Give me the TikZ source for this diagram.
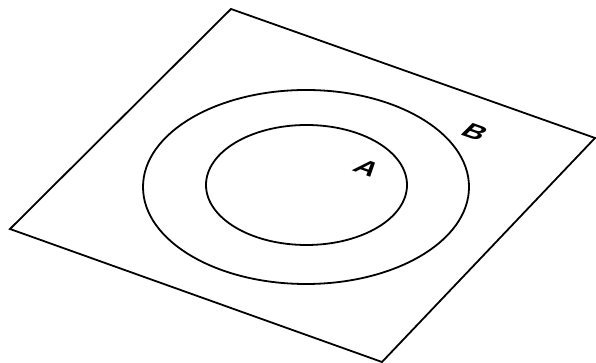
\documentclass[tikz,border=0pt]{standalone}
\usepackage{fontspec}
\setsansfont{Liberation Sans}
\usetikzlibrary{calc}
\tikzset{
    plane/.style={
        draw,
        line width=1.8pt,
        line join=miter
    },
    ring/.style={
        draw,
        line width=1.8pt
    },
    lbl/.style={
        font=\sffamily\bfseries\fontsize{19}{19}\selectfont,
        transform shape,
        inner sep=0pt,
        cm={1.45,-0.51,0.9,0.9,(0,0)}
    }
}
\begin{document}
\begin{tikzpicture}[x=1pt,y=1pt]
\useasboundingbox (0,0) rectangle (596,363);

% corners of the plane
\coordinate (top) at (231,354);
\coordinate (right) at (595,225);
\coordinate (bottom) at (382,1);
\coordinate (left) at (10,134);
\draw[plane] (top) -- (right) -- (bottom) -- (left) -- cycle;

% the two sets
\coordinate (cB) at (306,176);
\coordinate (cA) at (306.5,178);
\draw[ring] (cB) ellipse [x radius=163, y radius=97];
\draw[ring] (cA) ellipse [x radius=100.5, y radius=60];

\node[lbl] (labelA) at (367,194.5) {A};
\node[lbl] (labelB) at (475,231) {B};

\end{tikzpicture}
\end{document}
